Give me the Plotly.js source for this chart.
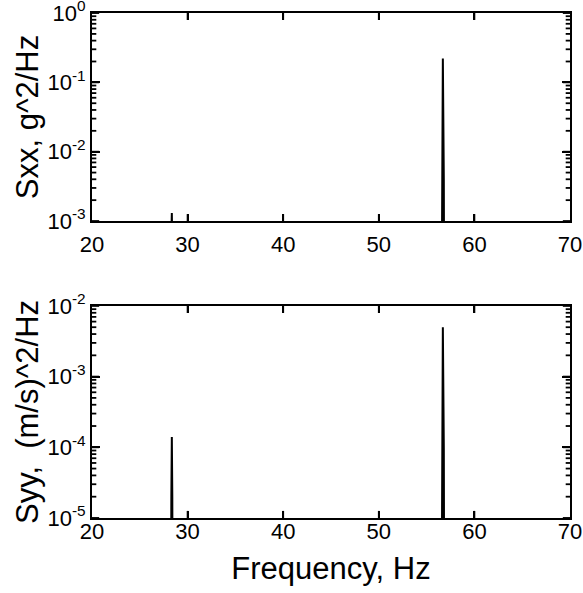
<!DOCTYPE html>
<html>
<head>
<meta charset="utf-8">
<script src="https://cdn.plot.ly/plotly-3.0.1.min.js"></script>
<style>html,body{margin:0;padding:0;background:#fff;}#chart{width:583px;height:593px;}</style>
</head>
<body>
<div id="chart"></div>
<script>
// Frequency samples (Hz)
var freqX = [20, 28.25, 28.3, 28.35, 28.4, 28.45, 56.55, 56.6, 56.7, 56.8, 56.85, 70];
// Sxx, g^2/Hz (values below 1e-3 fall under the plotted range)
var sxx = [1e-4, 1e-4, 6e-4, 1.3e-3, 6e-4, 1e-4, 1e-5, 4e-3, 0.22, 4e-3, 1e-5, 1e-4];
// Syy, (m/s)^2/Hz (values below 1e-5 fall under the plotted range)
var syy = [1e-6, 1e-7, 2e-5, 1.4e-4, 2e-5, 1e-7, 1e-7, 1e-4, 5e-3, 1e-4, 1e-7, 1e-6];

var xTicks = [20, 30, 40, 50, 60, 70];
var yTopVals = [1e-3, 1e-2, 1e-1, 1];
var yTopText = ['10<sup>-3</sup>', '10<sup>-2</sup>', '10<sup>-1</sup>', '10<sup>0</sup>'];
var yBotVals = [1e-5, 1e-4, 1e-3, 1e-2];
var yBotText = ['10<sup>-5</sup>', '10<sup>-4</sup>', '10<sup>-3</sup>', '10<sup>-2</sup>'];

var font = 'Liberation Sans, Arial, Helvetica, sans-serif';

// tick marks drawn as line segments (inside ticks on all four sides)
function tickTrace(xa, ya, majors) {
  var xs = [], ys = [];
  var lo = majors[0], hi = majors[majors.length - 1];
  var dxMaj = 0.75, dxMin = 0.45;
  var dyDec = 0.1;
  for (var i = 0; i < majors.length; i++) {
    var v = majors[i];
    xs.push(20, 20 + dxMaj, null, 70 - dxMaj, 70, null);
    ys.push(v, v, null, v, v, null);
    if (i < majors.length - 1) {
      for (var k = 2; k <= 9; k++) {
        var m = v * k;
        xs.push(20, 20 + dxMin, null, 70 - dxMin, 70, null);
        ys.push(m, m, null, m, m, null);
      }
    }
  }
  for (var j = 1; j < xTicks.length - 1; j++) {
    var t = xTicks[j];
    xs.push(t, t, null, t, t, null);
    ys.push(lo, lo * Math.pow(10, dyDec), null, hi / Math.pow(10, dyDec), hi, null);
  }
  return {x: xs, y: ys, xaxis: xa, yaxis: ya, type: 'scatter', mode: 'lines',
          line: {color: '#000', width: 1.8}, hoverinfo: 'none', connectgaps: false};
}

var traces = [
  {x: freqX, y: sxx, xaxis: 'x2', yaxis: 'y2', type: 'scatter', mode: 'lines',
   line: {color: '#000', width: 2}, hoverinfo: 'none'},
  {x: freqX, y: syy, xaxis: 'x', yaxis: 'y', type: 'scatter', mode: 'lines',
   line: {color: '#000', width: 2}, hoverinfo: 'none'},
  tickTrace('x2', 'y2', yTopVals),
  tickTrace('x', 'y', yBotVals)
];

function xax(anchor, standoff) {
  return {
    anchor: anchor, range: [20, 70], tickmode: 'array', tickvals: xTicks,
    ticks: 'inside', ticklen: 7, tickwidth: 2, tickcolor: '#000',
    showline: true, linecolor: '#000', linewidth: 2, mirror: 'ticks',
    showgrid: false, zeroline: false,
    tickfont: {family: font, size: 22, color: '#000'},
    ticklabelstandoff: standoff
  };
}
function yax(anchor, domain, lo, hi, vals, text, title) {
  return {
    anchor: anchor, domain: domain, type: 'log', range: [lo - 0.0005, hi + 0.0005],
    tickmode: 'array', tickvals: vals, ticktext: text,
    ticks: 'inside', ticklen: 8, tickwidth: 2, tickcolor: '#000',
    showline: true, linecolor: '#000', linewidth: 2, mirror: 'ticks',
    showgrid: false, zeroline: false, ticklabeloverflow: 'allow',
    tickfont: {family: font, size: 22, color: '#000'},
    title: {text: title, font: {family: font, size: 31, color: '#000'}, standoff: 0}
  };
}

var layout = {
  width: 583, height: 593,
  margin: {l: 92, r: 13, t: 13, b: 75},
  paper_bgcolor: '#fff', plot_bgcolor: '#fff',
  showlegend: false,
  xaxis: Object.assign(xax('y', -7), {title: {text: 'Frequency, Hz', font: {family: font, size: 31, color: '#000'}, standoff: 14}}),
  yaxis: yax('x', [0, 0.42], -5, -2, yBotVals, yBotText, 'Syy,  (m/s)^2/Hz'),
  xaxis2: xax('y2', 3),
  yaxis2: yax('x2', [0.588, 1], -3, 0, yTopVals, yTopText, 'Sxx, g^2/Hz')
};

Plotly.newPlot('chart', traces, layout, {staticPlot: true, displayModeBar: false});
</script>
</body>
</html>
